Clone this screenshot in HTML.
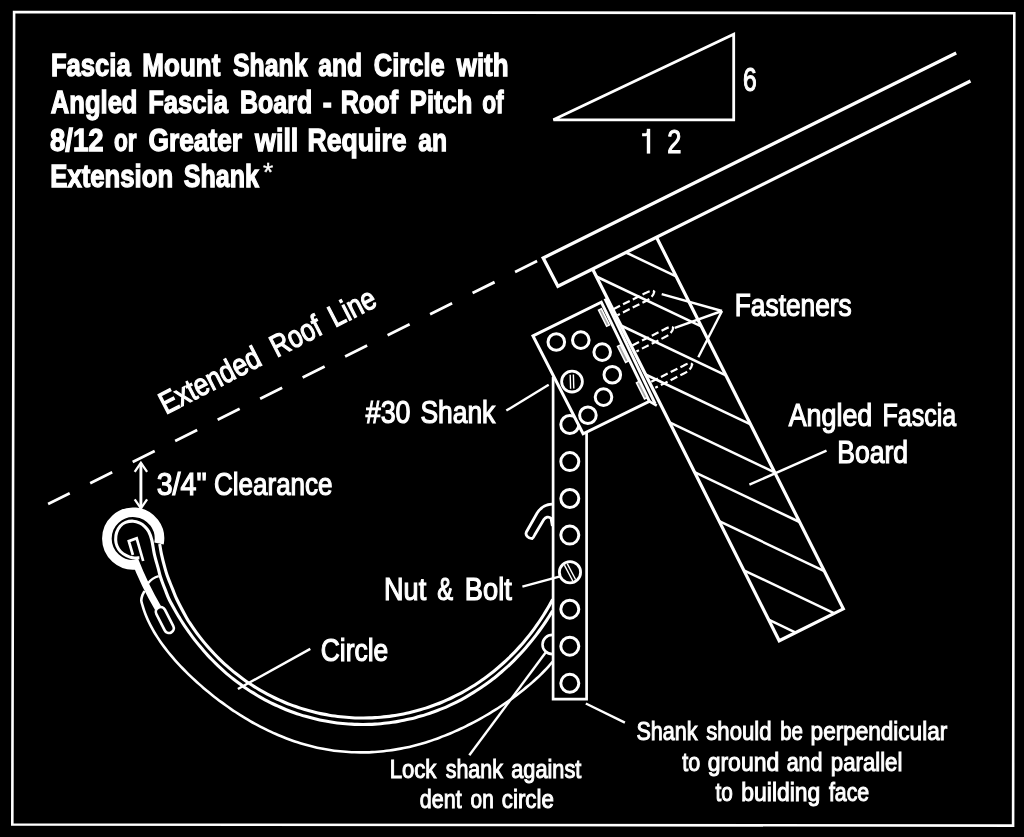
<!DOCTYPE html>
<html><head><meta charset="utf-8"><title>Fascia Mount Shank and Circle</title>
<style>
html,body{margin:0;padding:0;background:#000;}
body{width:1024px;height:837px;overflow:hidden;font-family:"Liberation Sans",sans-serif;}
svg{display:block;will-change:transform}
svg *{vector-effect:none}
.d{fill:none;stroke:#fff;stroke-linecap:butt}
.d text{fill:#fff;font-family:"Liberation Sans",sans-serif}
</style></head><body>
<svg width="1024" height="837" viewBox="0 0 1024 837">
<rect x="0" y="0" width="1024" height="837" fill="#000"/>
<g class="d">
<path d="M14.1,12.0 L1014.3,13.2 L1013.1,825.6 L12.3,824.5 Z" stroke-width="2.6" stroke-linejoin="miter"/>
<path d="M553.4,119.8 L733.7,34.3 L733.7,119.8 Z" stroke-width="2.8" stroke-linejoin="miter"/>
<path d="M956.2,52.9 L543.2,258.0 L557.9,286.3 L970.5,81.0" stroke-width="3.3" stroke-linejoin="miter"/>
<line x1="537.1" y1="261.0" x2="48.1" y2="504.1" stroke-width="2.8" stroke-dasharray="24.6 22.85"/>
<path d="M592.6,269.0 L779.2,640.8 L843.3,608.9 L656.5,237.2" stroke-width="3.2" stroke-linejoin="miter"/>
<line x1="625.9" y1="252.5" x2="676.1" y2="276.3" stroke-width="2.5" />
<line x1="596.3" y1="276.5" x2="701.3" y2="326.3" stroke-width="2.5" />
<line x1="620.9" y1="325.5" x2="725.9" y2="375.4" stroke-width="2.5" />
<line x1="645.5" y1="374.5" x2="750.6" y2="424.4" stroke-width="2.5" />
<line x1="669.6" y1="422.4" x2="774.6" y2="472.3" stroke-width="2.5" />
<line x1="694.5" y1="472.1" x2="799.6" y2="522.0" stroke-width="2.5" />
<line x1="719.2" y1="521.2" x2="824.3" y2="571.1" stroke-width="2.5" />
<line x1="743.8" y1="570.3" x2="834.4" y2="613.3" stroke-width="2.5" />
<line x1="768.6" y1="619.7" x2="795.7" y2="632.6" stroke-width="2.5" />
<path d="M553.1,377.0 L553.1,699.2 L586.6,699.2 L586.6,431.5" stroke-width="2.7" stroke-linejoin="miter"/>
<circle cx="569.8" cy="424.5" r="9.0" stroke-width="3.0" />
<circle cx="569.8" cy="461.6" r="9.0" stroke-width="3.0" />
<circle cx="569.8" cy="498.5" r="9.0" stroke-width="3.0" />
<circle cx="569.8" cy="535.1" r="9.0" stroke-width="3.0" />
<circle cx="569.8" cy="609.2" r="9.0" stroke-width="3.0" />
<circle cx="569.8" cy="646.2" r="9.0" stroke-width="3.0" />
<circle cx="569.8" cy="683.3" r="9.0" stroke-width="3.0" />
<path d="M533.0,335.9 L601.3,302.2 L649.4,401.3 L583.1,433.8 Z" stroke-width="3.0" stroke-linejoin="miter" fill="#000"/>
<path d="M605.0,298.6 L655.2,403.8" stroke-width="3.0" />
<path d="M649.4,401.3 L656.8,405.6" stroke-width="2.6" />
<path d="M598.5,310.2 L601.4,308.7 L609.5,324.8 L606.6,326.3 Z" stroke-width="1.5" fill="#aaa"/>
<path d="M613.3,309.2 L645.5,293.1 Q652.5,289.2 654.3,291.8 Q653.1,297.3 646.0,300.9 L617.4,315.2" stroke-width="2.2" stroke-dasharray="7.5 3.4"/>
<path d="M617.5,346.4 L620.4,344.9 L628.5,361.0 L625.6,362.5 Z" stroke-width="1.5" fill="#aaa"/>
<path d="M632.3,345.4 L664.5,329.3 Q671.5,325.4 673.3,328.0 Q672.1,333.5 665.0,337.1 L636.4,351.4" stroke-width="2.2" stroke-dasharray="7.5 3.4"/>
<path d="M636.4,382.8 L639.3,381.3 L647.4,397.4 L644.5,398.9 Z" stroke-width="1.5" fill="#aaa"/>
<path d="M651.2,381.8 L683.4,365.7 Q690.4,361.8 692.2,364.4 Q691.0,369.9 683.9,373.5 L655.3,387.8" stroke-width="2.2" stroke-dasharray="7.5 3.4"/>
<line x1="722.0" y1="311.0" x2="661.7" y2="294.2" stroke-width="2.4" />
<line x1="722.0" y1="311.0" x2="674.8" y2="327.9" stroke-width="2.4" />
<line x1="722.0" y1="311.0" x2="698.3" y2="357.2" stroke-width="2.4" />
<circle cx="556.3" cy="342.0" r="8.3" stroke-width="3.0" />
<circle cx="580.8" cy="340.1" r="8.3" stroke-width="3.0" />
<circle cx="602.2" cy="352.1" r="8.3" stroke-width="3.0" />
<circle cx="612.3" cy="374.7" r="8.3" stroke-width="3.0" />
<circle cx="603.5" cy="397.1" r="8.3" stroke-width="3.0" />
<circle cx="587.9" cy="415.2" r="8.3" stroke-width="3.0" />
<circle cx="572.0" cy="381.6" r="10.4" stroke-width="2.8" fill="#000"/><line x1="573.4" y1="374.5" x2="573.8" y2="388.5" stroke-width="1.4" /><line x1="570.2" y1="374.7" x2="570.6" y2="388.7" stroke-width="1.4" />
<circle cx="570.0" cy="572.3" r="10.6" stroke-width="2.8" fill="#000"/><line x1="567.2" y1="563.6" x2="575.6" y2="579.5" stroke-width="1.4" /><line x1="564.4" y1="565.1" x2="572.8" y2="581.0" stroke-width="1.4" />
<path d="M552,504.2 C546,504.5 541,507 537,513.2 L526.4,532 C525,535 528,538.6 532.1,538.6 C533.5,538 534,536.5 534.8,534.7 L543.8,519.5 C545.5,517.3 548.5,516 551,518.2 L552.4,526" stroke-width="2.8"/>
<path d="M159.70,544.00 C160.00,545.72 160.60,550.18 161.50,554.30 C162.40,558.42 164.13,565.12 165.10,568.70 C166.07,572.28 166.47,573.42 167.30,575.80 C168.13,578.18 169.15,580.60 170.10,583.00 C171.05,585.40 171.87,587.45 173.00,590.20 C174.13,592.95 174.65,594.90 176.90,599.50 C179.15,604.10 184.39,613.97 186.50,617.82 C188.61,621.68 188.52,621.05 189.56,622.65 C190.60,624.24 191.66,625.82 192.74,627.39 C193.82,628.96 194.93,630.51 196.05,632.05 C197.17,633.59 198.31,635.11 199.47,636.62 C200.64,638.13 201.82,639.63 203.02,641.11 C204.23,642.59 205.45,644.05 206.69,645.50 C207.93,646.95 209.20,648.38 210.48,649.79 C211.76,651.21 213.06,652.60 214.38,653.98 C215.70,655.36 217.03,656.73 218.39,658.07 C219.75,659.42 221.12,660.74 222.52,662.05 C223.91,663.36 225.32,664.65 226.75,665.92 C228.18,667.19 229.62,668.44 231.09,669.67 C232.55,670.90 234.03,672.12 235.53,673.31 C237.03,674.50 238.54,675.67 240.07,676.82 C241.60,677.97 243.15,679.10 244.71,680.21 C246.27,681.31 247.85,682.40 249.44,683.47 C251.04,684.53 252.65,685.57 254.27,686.59 C255.89,687.61 257.53,688.61 259.18,689.59 C260.83,690.56 262.49,691.52 264.17,692.44 C265.85,693.37 267.54,694.28 269.24,695.16 C270.95,696.04 272.67,696.90 274.39,697.74 C276.12,698.57 277.86,699.38 279.61,700.17 C281.36,700.95 283.13,701.71 284.90,702.45 C286.67,703.18 288.46,703.90 290.25,704.58 C292.05,705.27 293.85,705.93 295.66,706.56 C297.47,707.20 299.30,707.81 301.13,708.39 C302.96,708.97 304.80,709.53 306.64,710.06 C308.49,710.60 310.34,711.10 312.20,711.58 C314.06,712.06 315.93,712.51 317.80,712.94 C319.68,713.37 321.56,713.77 323.44,714.14 C325.33,714.51 327.22,714.86 329.11,715.18 C331.00,715.50 332.90,715.79 334.81,716.06 C336.71,716.32 338.62,716.56 340.52,716.77 C342.43,716.98 344.35,717.17 346.26,717.33 C348.17,717.48 350.09,717.61 352.01,717.72 C353.93,717.82 355.84,717.90 357.76,717.94 C359.68,717.99 361.60,718.01 363.52,718.01 C365.44,718.00 367.36,717.97 369.28,717.91 C371.20,717.85 373.11,717.76 375.03,717.65 C376.94,717.54 378.86,717.39 380.77,717.23 C382.68,717.06 384.59,716.86 386.49,716.64 C388.39,716.42 390.30,716.17 392.19,715.90 C394.09,715.62 395.98,715.32 397.87,714.99 C399.75,714.67 401.64,714.31 403.51,713.93 C405.39,713.55 407.26,713.15 409.13,712.71 C410.99,712.28 412.85,711.82 414.70,711.34 C416.55,710.85 418.39,710.34 420.23,709.81 C422.06,709.28 423.89,708.72 425.71,708.13 C427.53,707.54 429.34,706.93 431.14,706.30 C432.94,705.67 434.73,705.01 436.51,704.32 C438.30,703.64 440.07,702.93 441.83,702.20 C443.59,701.47 445.34,700.71 447.08,699.93 C448.82,699.15 450.55,698.35 452.27,697.52 C453.98,696.70 455.69,695.85 457.38,694.98 C459.07,694.10 460.75,693.21 462.42,692.29 C464.09,691.38 465.74,690.44 467.39,689.48 C469.03,688.52 470.65,687.54 472.27,686.53 C473.88,685.53 475.48,684.50 477.07,683.46 C478.65,682.41 480.23,681.35 481.78,680.26 C483.34,679.18 484.88,678.07 486.41,676.94 C487.93,675.82 489.45,674.67 490.94,673.51 C492.44,672.34 493.92,671.16 495.38,669.95 C496.85,668.75 498.29,667.53 499.73,666.29 C501.16,665.05 502.57,663.79 503.97,662.52 C505.37,661.24 506.75,659.95 508.12,658.64 C509.48,657.33 510.83,656.00 512.16,654.66 C513.49,653.31 514.81,651.95 516.11,650.58 C517.40,649.20 518.68,647.81 519.94,646.40 C521.20,644.99 522.45,643.57 523.67,642.13 C524.90,640.69 526.11,639.24 527.30,637.77 C528.49,636.31 529.66,634.82 530.81,633.33 C531.97,631.83 533.10,630.32 534.22,628.80 C535.34,627.27 536.44,625.74 537.52,624.19 C538.60,622.64 539.66,621.07 540.70,619.50 C541.75,617.92 542.77,616.34 543.78,614.74 C544.79,613.14 545.77,611.52 546.74,609.90 C547.71,608.28 548.67,606.64 549.60,605.00 C550.53,603.35 551.84,600.94 552.34,600.02 C552.84,599.11 552.56,599.61 552.60,599.53" stroke-width="3.1" />
<path d="M139.40,557.70 C138.33,557.73 135.15,558.25 133.00,557.90 C130.85,557.55 128.58,556.67 126.50,555.60 C124.42,554.53 122.08,553.10 120.50,551.50 C118.92,549.90 117.80,547.88 117.00,546.00 C116.20,544.12 115.77,542.45 115.70,540.20 C115.63,537.95 115.83,534.87 116.60,532.50 C117.37,530.13 118.82,527.68 120.30,526.00 C121.78,524.32 123.35,523.20 125.50,522.40 C127.65,521.60 130.78,521.07 133.20,521.20 C135.62,521.33 138.07,522.30 140.00,523.20 C141.93,524.10 143.35,525.22 144.80,526.60 C146.25,527.98 147.53,529.27 148.70,531.50 C149.87,533.73 150.85,536.20 151.80,540.00 C152.75,543.80 153.32,549.52 154.40,554.30 C155.48,559.08 157.35,565.12 158.30,568.70 C159.25,572.28 159.38,573.42 160.10,575.80 C160.82,578.18 161.72,580.60 162.60,583.00 C163.48,585.40 164.30,587.45 165.40,590.20 C166.50,592.95 167.28,595.62 169.20,599.50 C171.12,603.38 175.13,610.33 176.91,613.49 C178.70,616.65 178.88,616.81 179.90,618.45 C180.91,620.09 181.94,621.72 182.99,623.34 C184.04,624.96 185.11,626.57 186.20,628.16 C187.29,629.75 188.39,631.33 189.52,632.90 C190.64,634.47 191.79,636.02 192.95,637.56 C194.12,639.10 195.30,640.62 196.50,642.14 C197.70,643.65 198.92,645.14 200.16,646.62 C201.40,648.11 202.66,649.57 203.93,651.02 C205.21,652.47 206.50,653.91 207.81,655.33 C209.13,656.75 210.46,658.15 211.80,659.54 C213.15,660.92 214.52,662.29 215.90,663.64 C217.29,665.00 218.69,666.33 220.11,667.65 C221.53,668.96 222.97,670.26 224.42,671.54 C225.88,672.82 227.35,674.08 228.83,675.32 C230.32,676.56 231.83,677.78 233.35,678.99 C234.87,680.19 236.41,681.37 237.96,682.53 C239.52,683.69 241.09,684.84 242.67,685.96 C244.26,687.08 245.86,688.18 247.47,689.25 C249.09,690.33 250.72,691.39 252.36,692.42 C254.01,693.46 255.67,694.47 257.34,695.46 C259.02,696.45 260.71,697.41 262.41,698.36 C264.11,699.30 265.82,700.22 267.55,701.12 C269.28,702.01 271.02,702.89 272.77,703.73 C274.52,704.58 276.29,705.41 278.06,706.21 C279.84,707.01 281.63,707.78 283.42,708.53 C285.22,709.28 287.03,710.01 288.85,710.71 C290.67,711.41 292.50,712.08 294.34,712.73 C296.18,713.38 298.03,714.00 299.88,714.60 C301.74,715.19 303.60,715.76 305.48,716.31 C307.35,716.85 309.23,717.37 311.12,717.86 C313.01,718.35 314.90,718.81 316.81,719.25 C318.71,719.69 320.62,720.10 322.53,720.48 C324.44,720.86 326.36,721.22 328.29,721.54 C330.21,721.87 332.14,722.17 334.07,722.45 C336.00,722.72 337.94,722.97 339.88,723.18 C341.82,723.40 343.76,723.59 345.70,723.75 C347.65,723.92 349.60,724.05 351.54,724.16 C353.49,724.26 355.44,724.34 357.39,724.39 C359.34,724.45 361.29,724.47 363.24,724.46 C365.19,724.46 367.14,724.43 369.09,724.37 C371.04,724.31 372.99,724.22 374.93,724.10 C376.88,723.99 378.82,723.85 380.76,723.68 C382.70,723.50 384.64,723.31 386.58,723.08 C388.51,722.86 390.44,722.60 392.37,722.32 C394.29,722.04 396.22,721.74 398.13,721.40 C400.05,721.07 401.96,720.71 403.87,720.32 C405.77,719.93 407.67,719.52 409.56,719.07 C411.46,718.63 413.34,718.17 415.22,717.67 C417.10,717.18 418.97,716.66 420.83,716.11 C422.70,715.57 424.55,715.00 426.40,714.40 C428.24,713.80 430.08,713.18 431.91,712.54 C433.73,711.89 435.55,711.22 437.36,710.52 C439.16,709.82 440.96,709.10 442.75,708.36 C444.53,707.61 446.31,706.84 448.07,706.05 C449.84,705.26 451.59,704.44 453.33,703.60 C455.07,702.76 456.80,701.90 458.51,701.01 C460.23,700.13 461.93,699.22 463.62,698.29 C465.31,697.36 466.99,696.41 468.65,695.43 C470.31,694.46 471.96,693.46 473.60,692.44 C475.23,691.43 476.86,690.39 478.46,689.33 C480.07,688.27 481.66,687.19 483.24,686.09 C484.82,685.00 486.38,683.88 487.93,682.74 C489.47,681.60 491.01,680.44 492.52,679.27 C494.04,678.09 495.54,676.89 497.03,675.68 C498.51,674.47 499.98,673.24 501.43,671.99 C502.89,670.74 504.32,669.47 505.75,668.19 C507.17,666.90 508.57,665.60 509.96,664.28 C511.35,662.97 512.72,661.63 514.08,660.28 C515.43,658.93 516.77,657.56 518.09,656.18 C519.41,654.80 520.72,653.40 522.01,651.99 C523.29,650.58 524.57,649.15 525.82,647.71 C527.07,646.27 528.31,644.82 529.53,643.35 C530.75,641.88 531.96,640.40 533.14,638.90 C534.33,637.40 535.50,635.89 536.65,634.37 C537.81,632.85 538.94,631.31 540.06,629.77 C541.18,628.22 542.29,626.66 543.37,625.09 C544.46,623.51 545.53,621.93 546.58,620.33 C547.63,618.74 548.69,617.11 549.69,615.51 C550.69,613.92 552.11,611.57 552.60,610.78" stroke-width="3.1" />
<path d="M144.60,591.00 C144.22,591.75 142.85,593.92 142.30,595.50 C141.75,597.08 141.25,598.82 141.30,600.50 C141.35,602.18 142.08,603.79 142.58,605.55 C143.08,607.32 143.68,609.26 144.31,611.08 C144.94,612.91 145.63,614.71 146.36,616.49 C147.09,618.27 147.88,620.04 148.70,621.78 C149.53,623.52 150.40,625.24 151.31,626.94 C152.21,628.64 153.16,630.32 154.14,631.98 C155.12,633.64 156.13,635.28 157.18,636.90 C158.22,638.52 159.29,640.12 160.39,641.70 C161.49,643.28 162.62,644.84 163.77,646.39 C164.92,647.93 166.10,649.46 167.29,650.97 C168.49,652.48 169.71,653.97 170.94,655.44 C172.18,656.92 173.43,658.37 174.70,659.82 C175.97,661.26 177.26,662.68 178.57,664.09 C179.87,665.50 181.19,666.89 182.52,668.27 C183.86,669.65 185.21,671.02 186.57,672.37 C187.93,673.72 189.30,675.05 190.68,676.37 C192.07,677.70 193.47,679.00 194.88,680.30 C196.29,681.59 197.71,682.87 199.14,684.14 C200.57,685.41 202.01,686.66 203.46,687.90 C204.92,689.14 206.38,690.37 207.85,691.59 C209.33,692.80 210.81,694.00 212.31,695.19 C213.80,696.38 215.31,697.55 216.82,698.72 C218.34,699.88 219.86,701.03 221.40,702.16 C222.93,703.30 224.48,704.42 226.03,705.53 C227.59,706.64 229.16,707.73 230.73,708.81 C232.31,709.89 233.90,710.96 235.49,712.01 C237.09,713.06 238.70,714.10 240.32,715.12 C241.94,716.14 243.56,717.14 245.20,718.13 C246.84,719.12 248.49,720.10 250.15,721.05 C251.81,722.01 253.49,722.95 255.17,723.87 C256.85,724.80 258.54,725.70 260.24,726.59 C261.95,727.48 263.66,728.35 265.39,729.20 C267.11,730.04 268.84,730.88 270.59,731.69 C272.33,732.50 274.09,733.29 275.85,734.06 C277.62,734.83 279.39,735.58 281.18,736.31 C282.96,737.04 284.76,737.74 286.56,738.43 C288.37,739.11 290.18,739.77 292.00,740.41 C293.82,741.05 295.65,741.67 297.49,742.26 C299.33,742.85 301.18,743.42 303.04,743.96 C304.89,744.50 306.76,745.02 308.63,745.52 C310.50,746.01 312.38,746.48 314.26,746.92 C316.14,747.36 318.04,747.78 319.93,748.17 C321.83,748.56 323.73,748.93 325.64,749.26 C327.55,749.60 329.46,749.91 331.38,750.19 C333.29,750.48 335.21,750.73 337.14,750.96 C339.06,751.19 340.99,751.39 342.92,751.57 C344.85,751.74 346.78,751.89 348.72,752.01 C350.65,752.13 352.59,752.22 354.52,752.28 C356.46,752.34 358.40,752.38 360.34,752.39 C362.27,752.40 364.21,752.38 366.15,752.33 C368.08,752.28 370.02,752.21 371.95,752.11 C373.88,752.01 375.82,751.88 377.74,751.73 C379.67,751.57 381.60,751.39 383.52,751.18 C385.44,750.97 387.36,750.74 389.28,750.48 C391.19,750.22 393.10,749.93 395.01,749.62 C396.92,749.31 398.82,748.97 400.71,748.61 C402.61,748.25 404.50,747.87 406.38,747.46 C408.26,747.05 410.14,746.62 412.01,746.16 C413.88,745.70 415.75,745.22 417.60,744.72 C419.46,744.22 421.31,743.70 423.15,743.15 C425.00,742.61 426.83,742.04 428.66,741.45 C430.48,740.86 432.30,740.25 434.12,739.62 C435.93,738.99 437.73,738.35 439.52,737.68 C441.32,737.01 443.10,736.32 444.88,735.62 C446.66,734.91 448.43,734.19 450.19,733.45 C451.95,732.71 453.70,731.95 455.45,731.17 C457.19,730.39 458.92,729.60 460.65,728.79 C462.38,727.98 464.09,727.16 465.80,726.32 C467.51,725.48 469.21,724.62 470.90,723.75 C472.60,722.87 474.28,721.99 475.95,721.09 C477.63,720.18 479.30,719.27 480.95,718.34 C482.61,717.41 484.26,716.46 485.90,715.50 C487.54,714.54 489.17,713.57 490.80,712.58 C492.42,711.59 494.03,710.59 495.64,709.58 C497.25,708.56 498.84,707.53 500.43,706.49 C502.02,705.44 503.60,704.38 505.17,703.31 C506.74,702.24 508.30,701.15 509.85,700.05 C511.40,698.95 512.95,697.83 514.48,696.70 C516.01,695.57 517.53,694.43 519.04,693.26 C520.55,692.10 522.05,690.92 523.53,689.73 C525.02,688.53 526.49,687.32 527.95,686.10 C529.42,684.87 530.86,683.62 532.30,682.36 C533.73,681.10 535.15,679.81 536.55,678.51 C537.95,677.21 539.33,675.90 540.70,674.56 C542.06,673.22 543.41,671.86 544.73,670.48 C546.05,669.10 547.36,667.69 548.64,666.27 C549.91,664.85 551.73,662.70 552.39,661.93 C553.06,661.17 552.57,661.72 552.60,661.68" stroke-width="2.6" />
<path d="M552.3,634.9 A9.8,9.6 0 0 0 552.3,654.1" stroke-width="2.6"/>
<path d="M159.0,543.5 A26.3,26.3 0 1 0 135.9,564.7" stroke-width="9.6" stroke-linecap="butt"/>
<path d="M134.6,559.5 Q144.5,585 158,608" stroke-width="7.2"/>
<g transform="translate(164.8,620) rotate(62.9)"><rect x="-14" y="-4.8" width="28" height="9.6" rx="4.8" stroke-width="2.7"/></g>
<path d="M143.2,561 L136.7,538.3 L128.8,541.2 L132.9,555" stroke-width="2.7" stroke-linejoin="miter"/>
<path d="M158.7,576.2 C154,577.5 150.5,580 147.9,583.5" stroke-width="2.4"/>
<line x1="140.9" y1="463.5" x2="140.9" y2="507.5" stroke-width="2.9" />
<path d="M134.7,471.8 L140.9,462.8 L147.1,471.8" stroke-width="2.3" stroke-linejoin="miter"/>
<path d="M134.7,499.3 L140.9,508.3 L147.1,499.3" stroke-width="2.3" stroke-linejoin="miter"/>
<line x1="506.3" y1="410.6" x2="548.7" y2="384.7" stroke-width="2.4" />
<line x1="522.4" y1="586.7" x2="560.2" y2="576.3" stroke-width="2.4" />
<line x1="310.3" y1="648.9" x2="237.9" y2="689.0" stroke-width="2.4" />
<line x1="469.3" y1="755.3" x2="546.0" y2="652.0" stroke-width="2.4" />
<line x1="585.8" y1="703.5" x2="624.9" y2="722.7" stroke-width="2.4" />
<line x1="826.5" y1="450.6" x2="749.4" y2="484.7" stroke-width="2.4" />
<g role="img" aria-label="1"><path d="M648.5,128.8 L648.5,153.6" stroke-width="3.4"/><path d="M642.1,134.7 L646,134.7 Q648.2,134.2 648.5,130.5" stroke-width="2.9"/></g>
<text x="50.95" y="76.30" font-size="32" textLength="79.74" lengthAdjust="spacingAndGlyphs" font-weight="bold" stroke="#fff" stroke-width="1.3">Fascia</text>
<text x="142.32" y="76.30" font-size="32" textLength="78.05" lengthAdjust="spacingAndGlyphs" font-weight="bold" stroke="#fff" stroke-width="1.3">Mount</text>
<text x="232.95" y="76.30" font-size="32" textLength="74.54" lengthAdjust="spacingAndGlyphs" font-weight="bold" stroke="#fff" stroke-width="1.3">Shank</text>
<text x="318.35" y="76.30" font-size="32" textLength="43.69" lengthAdjust="spacingAndGlyphs" font-weight="bold" stroke="#fff" stroke-width="1.3">and</text>
<text x="373.85" y="76.30" font-size="32" textLength="70.83" lengthAdjust="spacingAndGlyphs" font-weight="bold" stroke="#fff" stroke-width="1.3">Circle</text>
<text x="456.76" y="76.30" font-size="32" textLength="51.84" lengthAdjust="spacingAndGlyphs" font-weight="bold" stroke="#fff" stroke-width="1.3">with</text>
<text x="50.85" y="113.20" font-size="32" textLength="86.64" lengthAdjust="spacingAndGlyphs" font-weight="bold" stroke="#fff" stroke-width="1.3">Angled</text>
<text x="148.15" y="113.20" font-size="32" textLength="79.84" lengthAdjust="spacingAndGlyphs" font-weight="bold" stroke="#fff" stroke-width="1.3">Fascia</text>
<text x="240.09" y="113.20" font-size="32" textLength="72.06" lengthAdjust="spacingAndGlyphs" font-weight="bold" stroke="#fff" stroke-width="1.3">Board</text>
<text x="322.71" y="113.20" font-size="32" textLength="9.00" lengthAdjust="spacingAndGlyphs" font-weight="bold" stroke="#fff" stroke-width="1.3">-</text>
<text x="340.67" y="113.20" font-size="32" textLength="57.40" lengthAdjust="spacingAndGlyphs" font-weight="bold" stroke="#fff" stroke-width="1.3">Roof</text>
<text x="409.85" y="113.20" font-size="32" textLength="62.43" lengthAdjust="spacingAndGlyphs" font-weight="bold" stroke="#fff" stroke-width="1.3">Pitch</text>
<text x="482.14" y="113.20" font-size="32" textLength="21.47" lengthAdjust="spacingAndGlyphs" font-weight="bold" stroke="#fff" stroke-width="1.3">of</text>
<text x="49.99" y="150.70" font-size="32" textLength="53.44" lengthAdjust="spacingAndGlyphs" font-weight="bold" stroke="#fff" stroke-width="1.3">8/12</text>
<text x="113.94" y="150.70" font-size="32" textLength="22.63" lengthAdjust="spacingAndGlyphs" font-weight="bold" stroke="#fff" stroke-width="1.3">or</text>
<text x="148.43" y="150.70" font-size="32" textLength="93.70" lengthAdjust="spacingAndGlyphs" font-weight="bold" stroke="#fff" stroke-width="1.3">Greater</text>
<text x="255.09" y="150.70" font-size="32" textLength="43.25" lengthAdjust="spacingAndGlyphs" font-weight="bold" stroke="#fff" stroke-width="1.3">will</text>
<text x="307.59" y="150.70" font-size="32" textLength="99.02" lengthAdjust="spacingAndGlyphs" font-weight="bold" stroke="#fff" stroke-width="1.3">Require</text>
<text x="418.25" y="150.70" font-size="32" textLength="28.79" lengthAdjust="spacingAndGlyphs" font-weight="bold" stroke="#fff" stroke-width="1.3">an</text>
<text x="50.24" y="187.00" font-size="32" textLength="122.95" lengthAdjust="spacingAndGlyphs" font-weight="bold" stroke="#fff" stroke-width="1.3">Extension</text>
<text x="183.75" y="187.00" font-size="32" textLength="75.14" lengthAdjust="spacingAndGlyphs" font-weight="bold" stroke="#fff" stroke-width="1.3">Shank</text>
<text x="263.00" y="180.70" font-size="26" textLength="10.22" lengthAdjust="spacingAndGlyphs" stroke="#fff" stroke-width="0.4">*</text>
<text x="742.96" y="91.20" font-size="33.6" textLength="13.73" lengthAdjust="spacingAndGlyphs" stroke="#fff" stroke-width="1.2">6</text>
<text x="667.14" y="152.90" font-size="33.6" textLength="14.12" lengthAdjust="spacingAndGlyphs" stroke="#fff" stroke-width="1.2">2</text>
<text x="734.80" y="316.10" font-size="31.0" textLength="116.92" lengthAdjust="spacingAndGlyphs" stroke="#fff" stroke-width="1.2">Fasteners</text>
<text x="788.70" y="425.60" font-size="31.0" textLength="83.57" lengthAdjust="spacingAndGlyphs" stroke="#fff" stroke-width="1.2">Angled</text>
<text x="882.49" y="425.60" font-size="31.0" textLength="73.60" lengthAdjust="spacingAndGlyphs" stroke="#fff" stroke-width="1.2">Fascia</text>
<text x="837.19" y="463.00" font-size="31.0" textLength="70.88" lengthAdjust="spacingAndGlyphs" stroke="#fff" stroke-width="1.2">Board</text>
<text x="365.80" y="422.80" font-size="31.0" textLength="44.71" lengthAdjust="spacingAndGlyphs" stroke="#fff" stroke-width="1.2">#30</text>
<text x="420.45" y="422.80" font-size="31.0" textLength="74.83" lengthAdjust="spacingAndGlyphs" stroke="#fff" stroke-width="1.2">Shank</text>
<text x="156.68" y="495.00" font-size="31.0" textLength="49.95" lengthAdjust="spacingAndGlyphs" stroke="#fff" stroke-width="1.2">3/4&quot;</text>
<text x="214.06" y="495.00" font-size="31.0" textLength="118.48" lengthAdjust="spacingAndGlyphs" stroke="#fff" stroke-width="1.2">Clearance</text>
<text x="384.05" y="599.50" font-size="31.0" textLength="42.11" lengthAdjust="spacingAndGlyphs" stroke="#fff" stroke-width="1.2">Nut</text>
<text x="437.14" y="599.50" font-size="31.0" textLength="15.82" lengthAdjust="spacingAndGlyphs" stroke="#fff" stroke-width="1.2">&amp;</text>
<text x="464.84" y="599.50" font-size="31.0" textLength="46.92" lengthAdjust="spacingAndGlyphs" stroke="#fff" stroke-width="1.2">Bolt</text>
<text x="320.75" y="661.00" font-size="31.0" textLength="67.41" lengthAdjust="spacingAndGlyphs" stroke="#fff" stroke-width="1.2">Circle</text>
<text x="389.64" y="777.90" font-size="25.2" textLength="46.80" lengthAdjust="spacingAndGlyphs" stroke="#fff" stroke-width="1.0">Lock</text>
<text x="445.70" y="777.90" font-size="25.2" textLength="57.25" lengthAdjust="spacingAndGlyphs" stroke="#fff" stroke-width="1.0">shank</text>
<text x="511.24" y="777.90" font-size="25.2" textLength="70.16" lengthAdjust="spacingAndGlyphs" stroke="#fff" stroke-width="1.0">against</text>
<text x="419.85" y="808.20" font-size="25.2" textLength="41.75" lengthAdjust="spacingAndGlyphs" stroke="#fff" stroke-width="1.0">dent</text>
<text x="470.57" y="808.20" font-size="25.2" textLength="23.16" lengthAdjust="spacingAndGlyphs" stroke="#fff" stroke-width="1.0">on</text>
<text x="501.82" y="808.20" font-size="25.2" textLength="51.98" lengthAdjust="spacingAndGlyphs" stroke="#fff" stroke-width="1.0">circle</text>
<text x="636.44" y="739.70" font-size="25.2" textLength="61.11" lengthAdjust="spacingAndGlyphs" stroke="#fff" stroke-width="1.0">Shank</text>
<text x="706.30" y="739.70" font-size="25.2" textLength="65.29" lengthAdjust="spacingAndGlyphs" stroke="#fff" stroke-width="1.0">should</text>
<text x="780.18" y="739.70" font-size="25.2" textLength="22.84" lengthAdjust="spacingAndGlyphs" stroke="#fff" stroke-width="1.0">be</text>
<text x="810.60" y="739.70" font-size="25.2" textLength="136.64" lengthAdjust="spacingAndGlyphs" stroke="#fff" stroke-width="1.0">perpendicular</text>
<text x="682.30" y="771.10" font-size="25.2" textLength="17.96" lengthAdjust="spacingAndGlyphs" stroke="#fff" stroke-width="1.0">to</text>
<text x="707.69" y="771.10" font-size="25.2" textLength="71.53" lengthAdjust="spacingAndGlyphs" stroke="#fff" stroke-width="1.0">ground</text>
<text x="786.65" y="771.10" font-size="25.2" textLength="35.92" lengthAdjust="spacingAndGlyphs" stroke="#fff" stroke-width="1.0">and</text>
<text x="830.82" y="771.10" font-size="25.2" textLength="71.59" lengthAdjust="spacingAndGlyphs" stroke="#fff" stroke-width="1.0">parallel</text>
<text x="715.50" y="801.20" font-size="25.2" textLength="17.33" lengthAdjust="spacingAndGlyphs" stroke="#fff" stroke-width="1.0">to</text>
<text x="741.29" y="801.20" font-size="25.2" textLength="79.03" lengthAdjust="spacingAndGlyphs" stroke="#fff" stroke-width="1.0">building</text>
<text x="828.90" y="801.20" font-size="25.2" textLength="40.35" lengthAdjust="spacingAndGlyphs" stroke="#fff" stroke-width="1.0">face</text>
<g transform="translate(166.6,414.3) rotate(-27.2)"><text x="-1.08" y="0.00" font-size="31.0" textLength="110.02" lengthAdjust="spacingAndGlyphs" stroke="#fff" stroke-width="1.2">Extended</text><text x="123.98" y="0.00" font-size="31.0" textLength="53.11" lengthAdjust="spacingAndGlyphs" stroke="#fff" stroke-width="1.2">Roof</text><text x="189.43" y="0.00" font-size="31.0" textLength="49.01" lengthAdjust="spacingAndGlyphs" stroke="#fff" stroke-width="1.2">Line</text></g>
</g>
</svg>
</body></html>
